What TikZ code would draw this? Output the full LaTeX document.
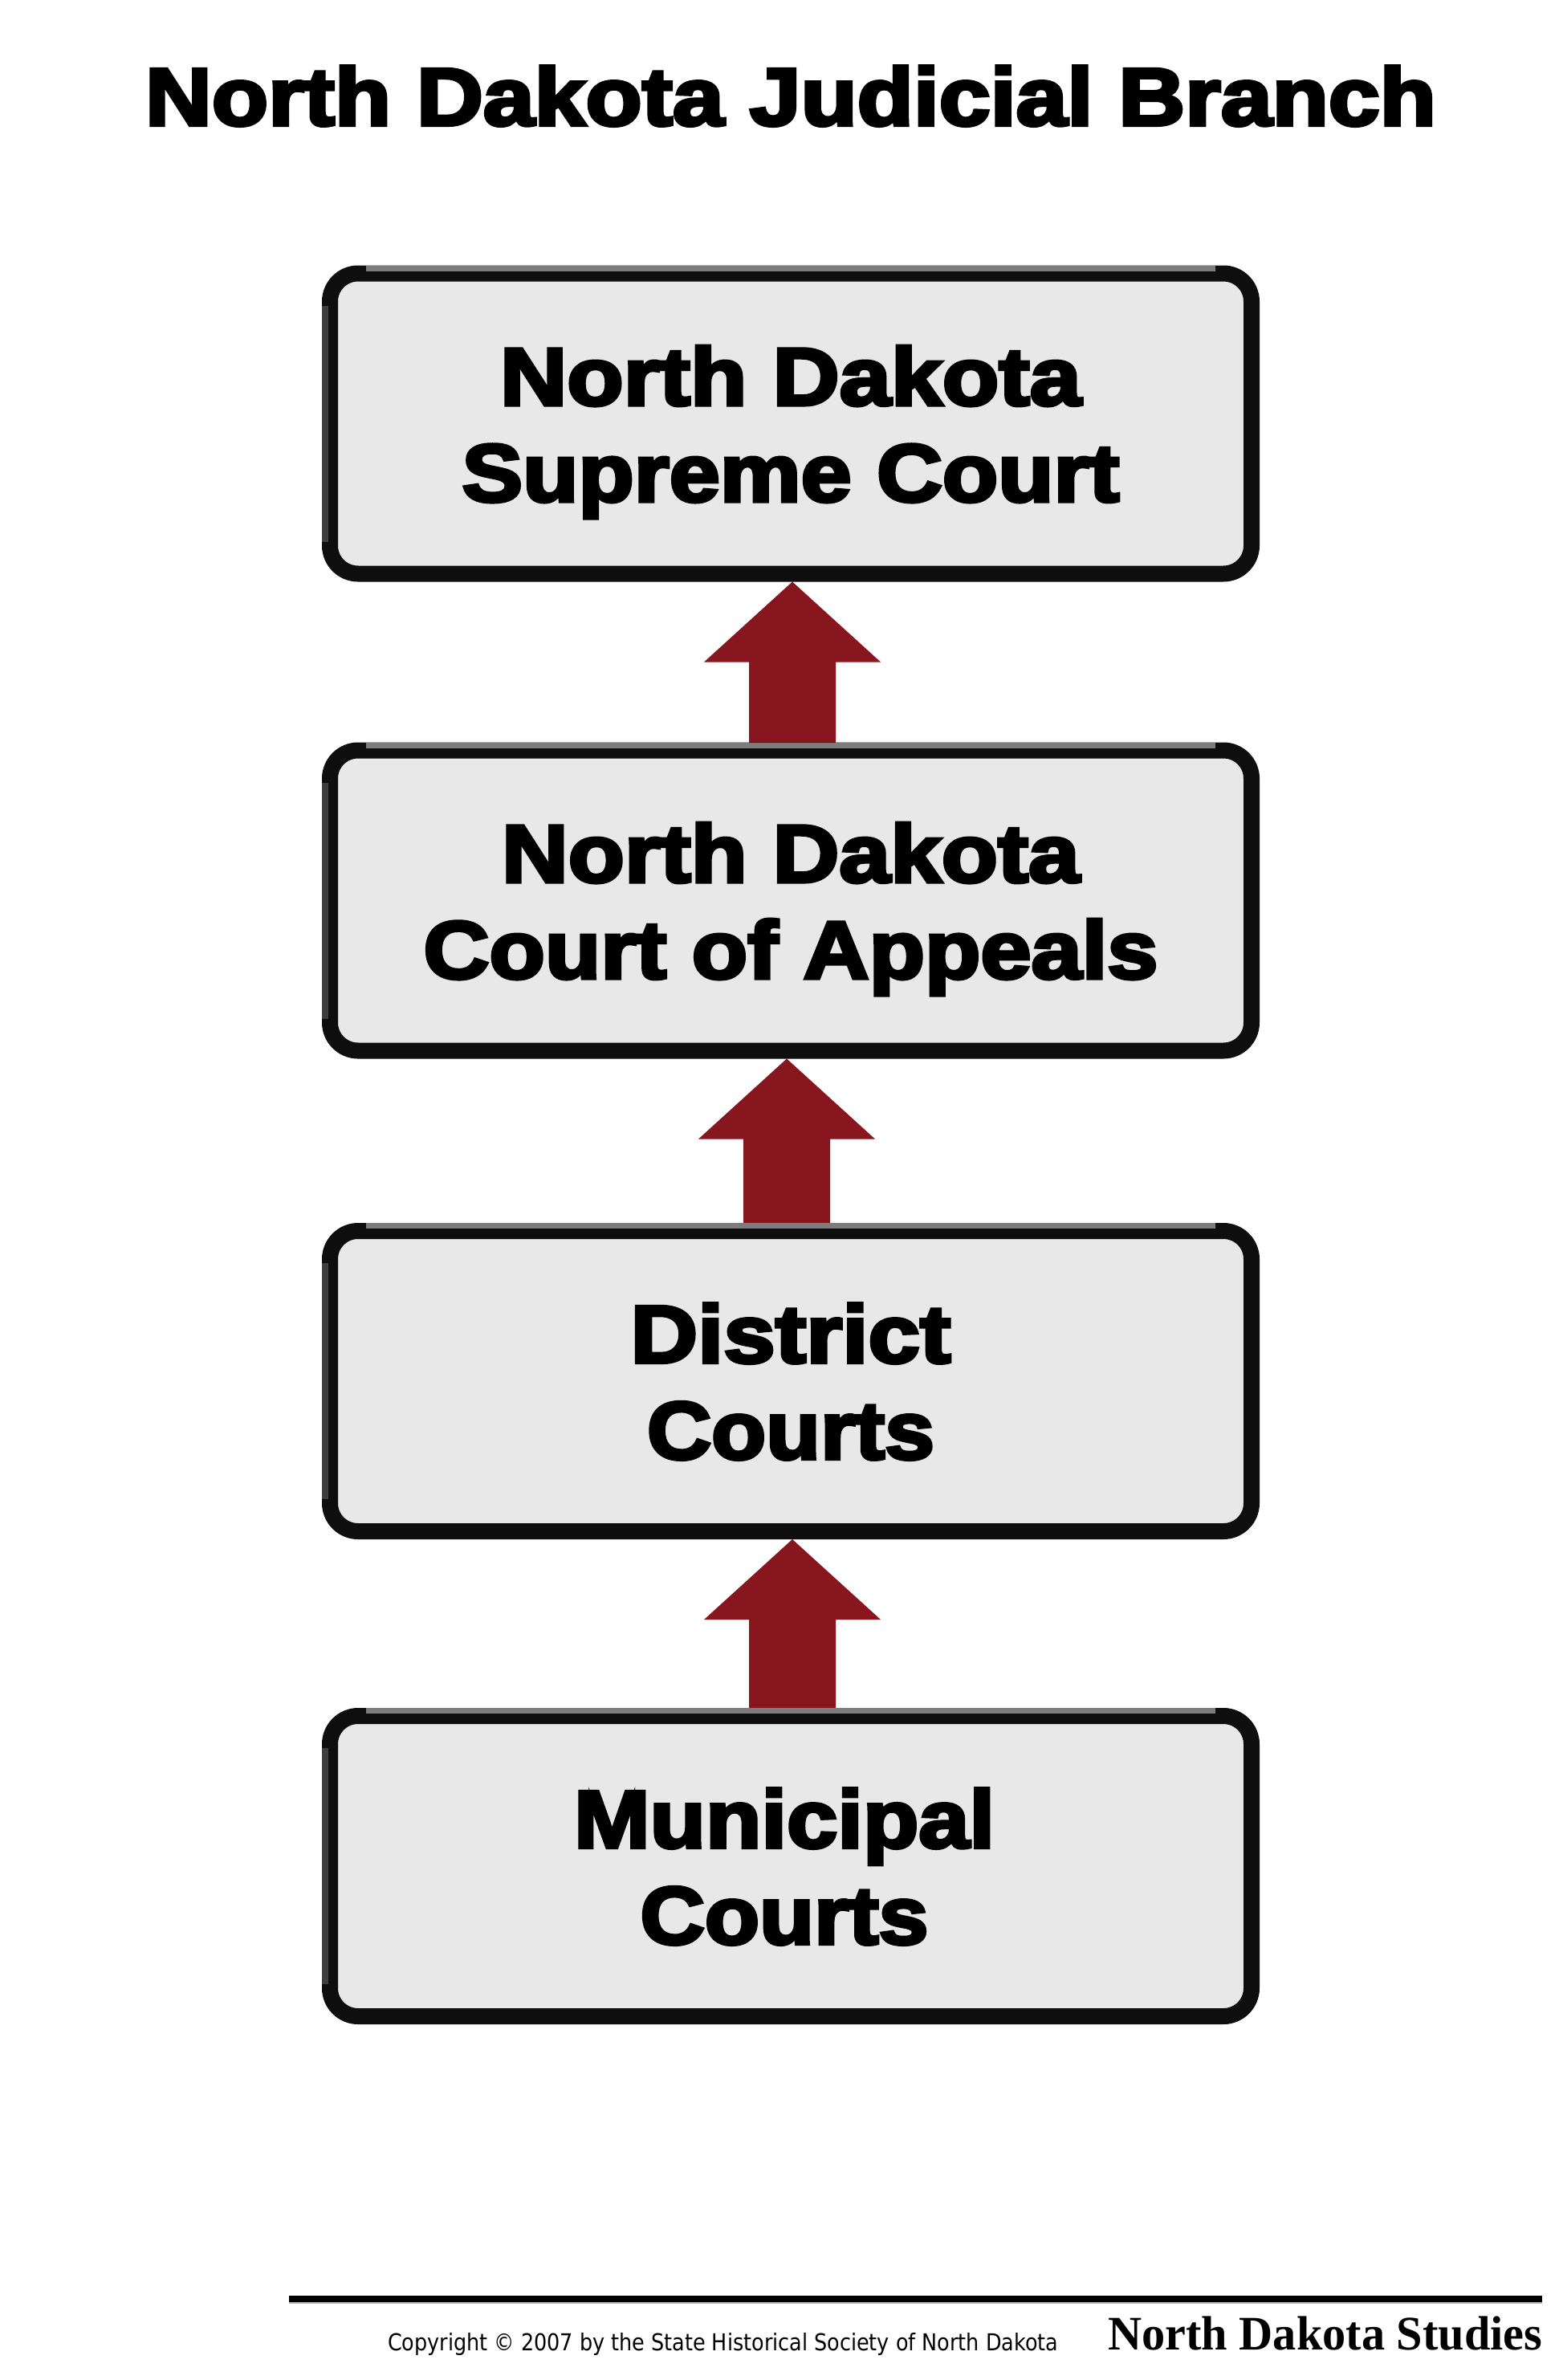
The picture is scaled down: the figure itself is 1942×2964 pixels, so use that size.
\documentclass[tikz,border=0pt]{standalone}
\usepackage{fontspec}
\usepackage{graphicx}
\setmainfont{Liberation Sans}
\newfontfamily\heavyfont{Liberation Sans}[BoldFeatures={FakeBold=4}]
\newfontfamily\footfont{DejaVu Sans}
\newfontfamily\brandfont{Liberation Serif}
\usetikzlibrary{calc}
\pgfdeclarelayer{background}
\pgfsetlayers{background,main}
\definecolor{boxfill}{HTML}{E8E8E8}
\definecolor{boxline}{HTML}{0E0E0E}
\definecolor{boxtop}{HTML}{7C7C7C}
\definecolor{boxleft}{HTML}{3E3E3E}
\definecolor{arrowred}{HTML}{88161F}
\newcommand\fitw[2]{\resizebox{#1pt}{\height}{#2}}
\newcommand\boxtxt[5][0]{\vtop{\baselineskip=120pt\lineskiplimit=-1000pt
  \hbox to 0pt{\hss\fitw{#2}{#3}\hss\kern#1pt}\hbox to 0pt{\hss\fitw{#4}{#5}\hss\kern#1pt}}}
\newcommand\uparrowlink[3]{% #1 lower box, #2 upper box, #3 x offset
  \fill[arrowred]
    ([xshift=#3pt,yshift=-10pt]#2.south)
    -- ([xshift=#3pt+110pt,yshift=-110pt]#2.south)
    -- ([xshift=#3pt+54pt,yshift=-110pt]#2.south)
    -- ([xshift=#3pt+54pt]#1.north)
    -- ([xshift=#3pt-54pt]#1.north)
    -- ([xshift=#3pt-54pt,yshift=-110pt]#2.south)
    -- ([xshift=#3pt-110pt,yshift=-110pt]#2.south)
    -- cycle;}
\tikzset{
  box/.style={draw=boxline, line width=20pt, fill=boxfill, rounded corners=35pt,
    minimum width=1148pt, minimum height=374pt, outer sep=0pt, inner sep=0pt,
    font=\heavyfont\bfseries\fontsize{102}{120}\selectfont,
    text height=80pt, text depth=126pt},
  titletext/.style={font=\heavyfont\bfseries\fontsize{102}{120}\selectfont, inner sep=0pt, anchor=base},
  foottext/.style={font=\footfont\fontsize{29}{34}\selectfont, inner sep=0pt, anchor=base west},
  brandtext/.style={font=\brandfont\bfseries\fontsize{60}{70}\selectfont, inner sep=0pt, anchor=base west},
}
\begin{document}
\begin{tikzpicture}[x=1pt,y=-1pt]
\useasboundingbox (0,0) rectangle (1942,2964);

\node[titletext] (title) at (985,156) {\fitw{1608}{North Dakota Judicial Branch}};

\node[box] (b1) at (985,527.5) {\boxtxt{724}{North Dakota}{819}{Supreme Court}};
\node[box] (b2) at (985,1121.5) {\boxtxt{720}{North Dakota}{915}{Court of Appeals}};
\node[box] (b3) at (985,1720) {\boxtxt{399}{District}{358}{Courts}};
\node[box] (b4) at (985,2324) {\boxtxt[16]{524}{Municipal}{359}{Courts}};

\foreach \b in {b1,b2,b3,b4} {
  \draw[line width=7pt, boxtop] ([xshift=45pt,yshift=6.5pt]\b.north west) -- ([xshift=-45pt,yshift=6.5pt]\b.north east);
  \draw[line width=8pt, boxleft] ([xshift=-6pt,yshift=-40pt]\b.north west) -- ([xshift=-6pt,yshift=40pt]\b.south west);
}

\begin{pgfonlayer}{background}
  \fill[white] (0,0) rectangle (1942,2964);
  \uparrowlink{b2}{b1}{2}
  \uparrowlink{b3}{b2}{-5}
  \uparrowlink{b4}{b3}{2}
\end{pgfonlayer}

\coordinate (fl) at (360,2863);
\coordinate (fr) at (1921,2863);
\draw[line width=8pt] (fl) -- (fr);
\draw[line width=1.5pt, gray!60] ([yshift=-4.75pt]fl) -- ([yshift=-4.75pt]fr);

\node[foottext] (copy) at (483,2927) {\fitw{835}{Copyright © 2007 by the State Historical Society of North Dakota}};
\node[brandtext] (brand) at (1380,2926) {\fitw{541}{North Dakota Studies}};
\end{tikzpicture}
\end{document}
